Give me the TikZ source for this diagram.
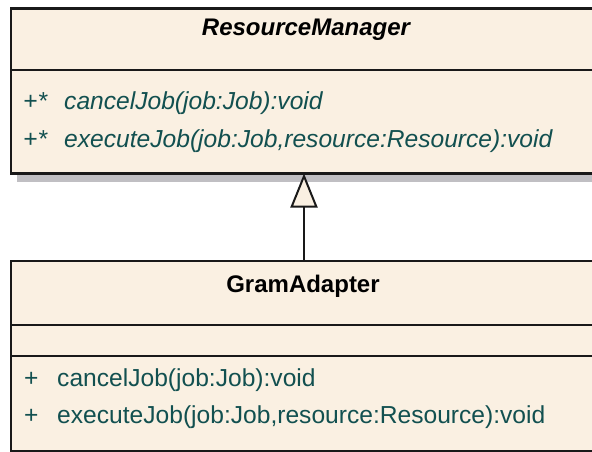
\documentclass[tikz,border=0pt]{standalone}
\usepackage{fontspec}
\setmainfont{Liberation Sans}
\usetikzlibrary{arrows.meta,shadows}

\definecolor{cream}{RGB}{250,240,226}
\definecolor{shade}{RGB}{192,191,195}
\definecolor{optext}{RGB}{18,80,80}
\definecolor{edge}{RGB}{25,25,25}

\tikzset{
  classbox/.style={draw=edge, fill=cream, line width=2.2pt, rectangle,
    inner sep=0pt, outer sep=0pt},
  shadowed/.style={drop shadow={shadow xshift=6pt, shadow yshift=-8pt,
    fill=shade, opacity=1}},
  sepline/.style={draw=edge, line width=2.2pt},
  classname/.style={anchor=base, inner sep=0pt, text=black,
    font=\fontsize{24}{28}\selectfont\bfseries},
  optxt/.style={anchor=base west, inner sep=0pt, text=optext,
    font=\fontsize{24.6}{28}\selectfont},
  generalize/.style={draw=edge, line width=2pt,
    -{Triangle[length=34pt, width=27pt, fill=cream, line join=miter]}},
}

\begin{document}
\begin{tikzpicture}[x=1pt, y=-1pt]
  \useasboundingbox (0,0) rectangle (592,452);

  % abstract class ResourceManager
  \node[classbox, shadowed, minimum width=586pt, minimum height=165pt]
    (rm) at (304,91) {};
  \draw[sepline] (rm.west |- 0,70) -- (rm.east |- 0,70);
  \node[classname, font=\fontsize{24}{28}\selectfont\bfseries\itshape]
    (rmname) at (306,36) {ResourceManager};
  \node[optxt, font=\fontsize{24.6}{28}\selectfont\itshape]
    (rmvis1) at (23,110) {+*};
  \node[optxt, font=\fontsize{24.6}{28}\selectfont\itshape]
    (rmop1) at (64,110) {cancelJob(job:Job):void};
  \node[optxt, font=\fontsize{24.6}{28}\selectfont\itshape]
    (rmvis2) at (23,147) {+*};
  \node[optxt, font=\fontsize{24.6}{28}\selectfont\itshape]
    (rmop2) at (64,147) {executeJob(job:Job,resource:Resource):void};

  % concrete class GramAdapter
  \node[classbox, minimum width=586pt, minimum height=190pt]
    (ga) at (304,356) {};
  \draw[sepline] (ga.west |- 0,325) -- (ga.east |- 0,325);
  \draw[sepline] (ga.west |- 0,356) -- (ga.east |- 0,356);
  \node[classname] (ganame) at (303,292) {GramAdapter};
  \node[optxt] (gavis1) at (24,386) {+};
  \node[optxt] (gaop1) at (57,386) {cancelJob(job:Job):void};
  \node[optxt] (gavis2) at (24,423) {+};
  \node[optxt] (gaop2) at (57,423) {executeJob(job:Job,resource:Resource):void};

  % generalization
  \draw[generalize] (ga.north) -- (rm.south);
\end{tikzpicture}
\end{document}
